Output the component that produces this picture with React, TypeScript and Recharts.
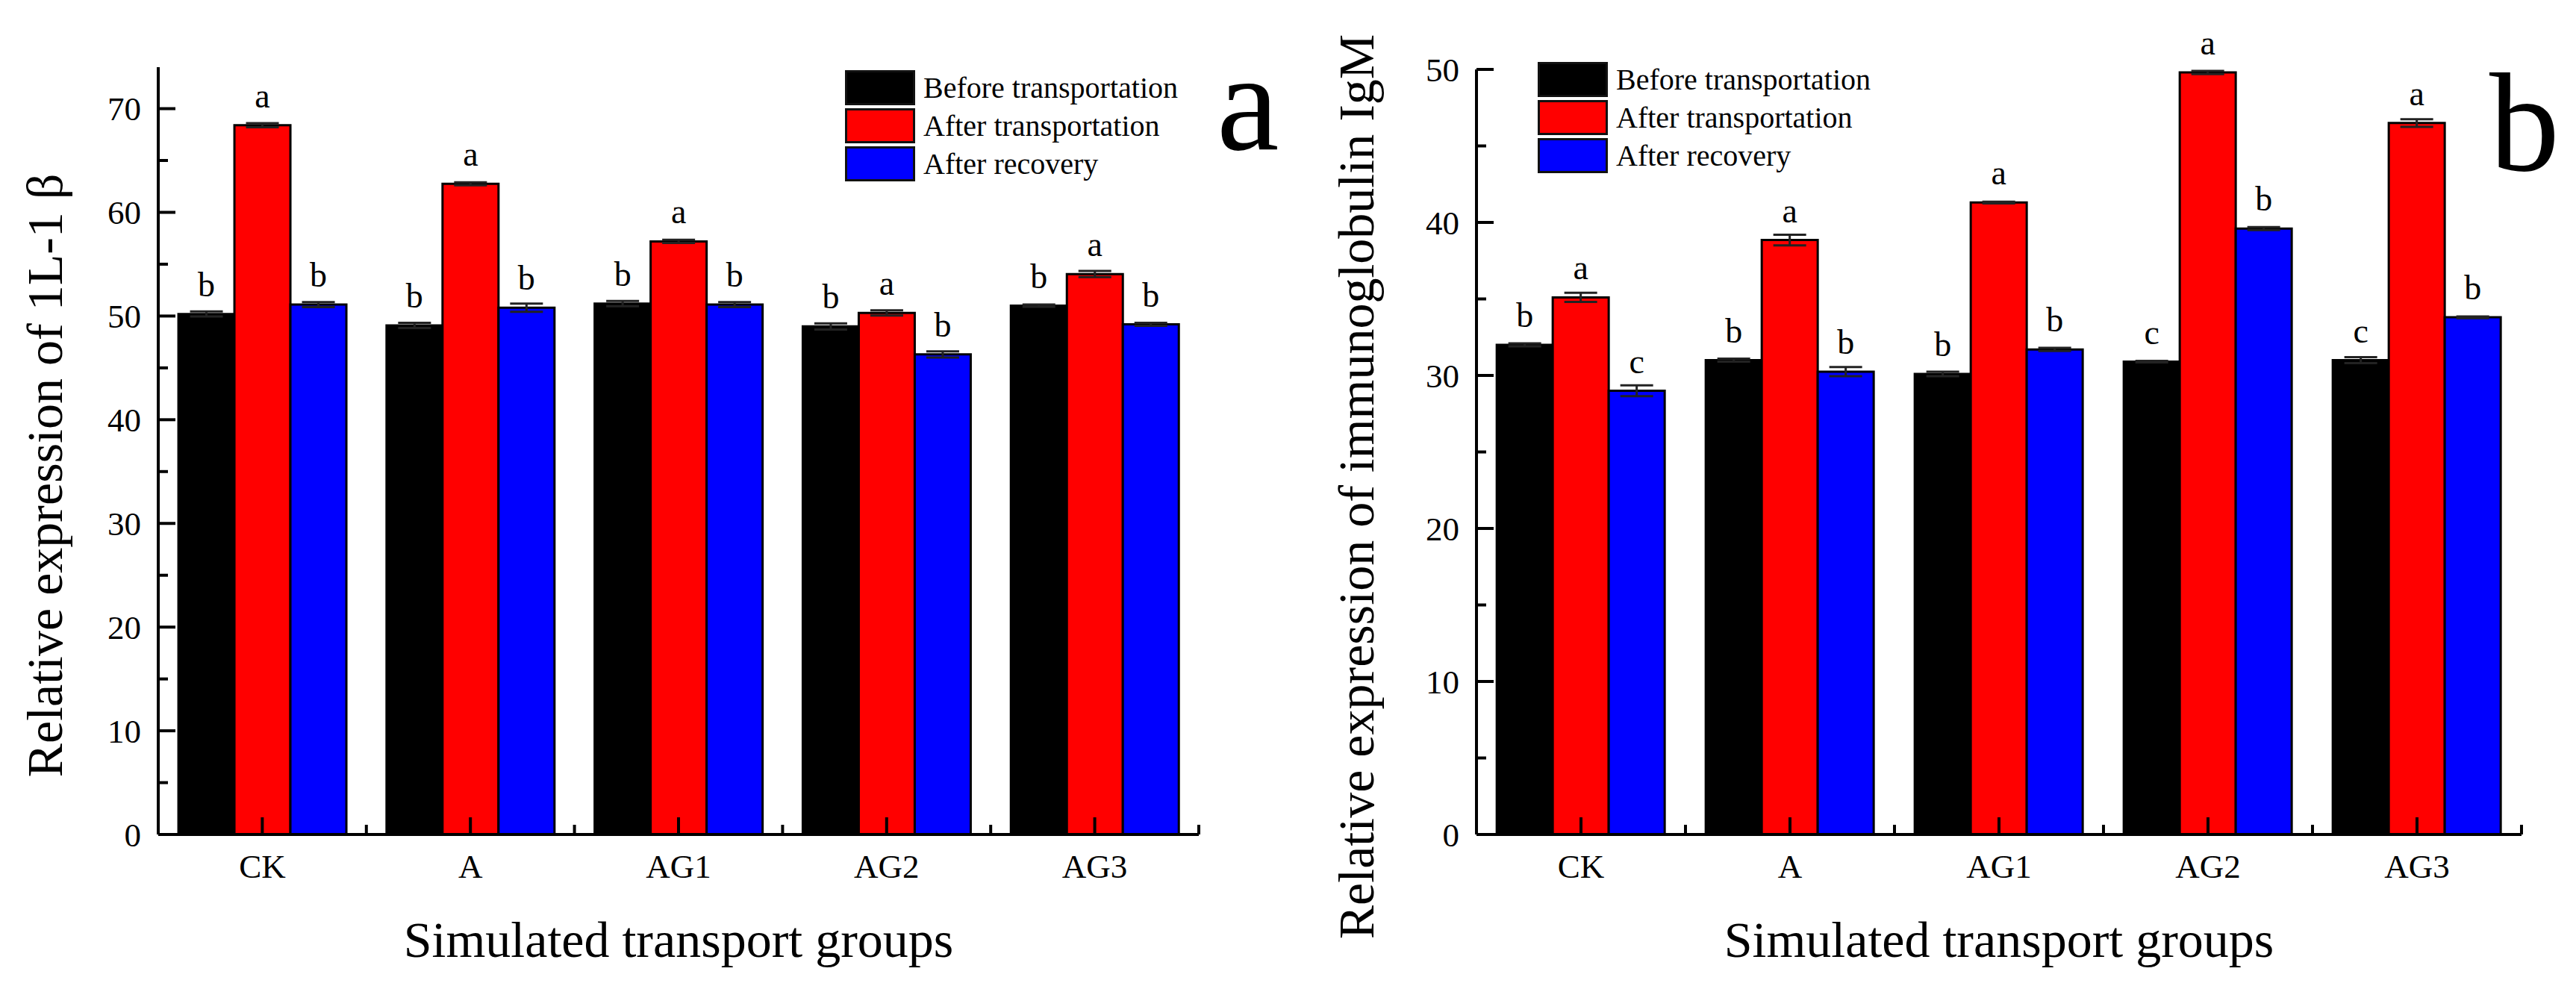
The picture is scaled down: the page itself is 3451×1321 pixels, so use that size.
import React from 'react'
import { BarChart, Bar, XAxis, YAxis, ErrorBar, LabelList, Legend } from 'recharts'

const groups = ['CK', 'A', 'AG1', 'AG2', 'AG3']

// panel a: IL-1 beta
const ilBefore = [50.2, 49.1, 51.2, 49.0, 51.0]
const ilAfter = [68.4, 62.75, 57.2, 50.3, 54.05]
const ilRecovery = [51.1, 50.8, 51.1, 46.3, 49.2]
const ilBeforeErr = [0.25, 0.25, 0.25, 0.3, 0.1]
const ilAfterErr = [0.2, 0.15, 0.15, 0.25, 0.3]
const ilRecoveryErr = [0.25, 0.4, 0.25, 0.3, 0.15]
const ilBeforeSig = ['b', 'b', 'b', 'b', 'b']
const ilAfterSig = ['a', 'a', 'a', 'a', 'a']
const ilRecoverySig = ['b', 'b', 'b', 'b', 'b']
const ilTicks = [0, 5, 10, 15, 20, 25, 30, 35, 40, 45, 50, 55, 60, 65, 70]

// panel b: immunoglobulin IgM
const igmBefore = [32.0, 31.0, 30.1, 30.9, 31.0]
const igmAfter = [35.1, 38.85, 41.3, 49.8, 46.5]
const igmRecovery = [29.0, 30.25, 31.7, 39.6, 33.8]
const igmBeforeErr = [0.1, 0.1, 0.15, 0.05, 0.2]
const igmAfterErr = [0.3, 0.35, 0.05, 0.1, 0.25]
const igmRecoveryErr = [0.35, 0.3, 0.1, 0.1, 0.05]
const igmBeforeSig = ['b', 'b', 'b', 'c', 'c']
const igmAfterSig = ['a', 'a', 'a', 'a', 'a']
const igmRecoverySig = ['c', 'b', 'b', 'b', 'b']
const igmTicks = [0, 5, 10, 15, 20, 25, 30, 35, 40, 45, 50]

const SERIES = [
  { key: 'before', name: 'Before transportation', color: '#000000' },
  { key: 'after', name: 'After transportation', color: '#ff0000' },
  { key: 'recovery', name: 'After recovery', color: '#0000ff' },
]

const FONT = '"Liberation Serif", "Times New Roman", serif'

function rows(before, after, recovery, bErr, aErr, rErr, bSig, aSig, rSig) {
  return groups.map((g, i) => ({
    group: g,
    before: before[i], after: after[i], recovery: recovery[i],
    beforeErr: bErr[i], afterErr: aErr[i], recoveryErr: rErr[i],
    beforeSig: bSig[i], afterSig: aSig[i], recoverySig: rSig[i],
  }))
}

const ilRows = rows(ilBefore, ilAfter, ilRecovery, ilBeforeErr, ilAfterErr, ilRecoveryErr,
  ilBeforeSig, ilAfterSig, ilRecoverySig)
const igmRows = rows(igmBefore, igmAfter, igmRecovery, igmBeforeErr, igmAfterErr, igmRecoveryErr,
  igmBeforeSig, igmAfterSig, igmRecoverySig)

const YTick = (props: any) => {
  const { x, y, payload } = props
  const major = payload.value % 10 === 0
  return (
    <g>
      <line x1={x} x2={x + (major ? 23 : 13)} y1={y} y2={y} stroke="#000" strokeWidth={4} />
      {major && (
        <text x={x - 23} y={y} dy="0.35em" textAnchor="end" fontSize={45} fill="#000">
          {payload.value}
        </text>
      )}
    </g>
  )
}

const makeXTick = (band: number) => (props: any) => {
  const { x, y, payload } = props
  return (
    <g>
      <line x1={x} x2={x} y1={y} y2={y - 23} stroke="#000" strokeWidth={4} />
      <line x1={x + band / 2} x2={x + band / 2} y1={y} y2={y - 13} stroke="#000" strokeWidth={4} />
      <text x={x} y={y + 58} textAnchor="middle" fontSize={45} fill="#000">{payload.value}</text>
    </g>
  )
}

const AxisTitle = ({ labelText, lx, ly, rotate }: any) => (
  <text
    x={lx}
    y={ly}
    transform={rotate ? `rotate(-90 ${lx} ${ly})` : undefined}
    textAnchor="middle"
    fontSize={68}
    fill="#000"
  >
    {labelText}
  </text>
)

const LegendBox = () => (
  <div style={{ fontFamily: FONT }}>
    {SERIES.map((s) => (
      <div key={s.key} style={{ display: 'flex', alignItems: 'center', height: 51 }}>
        <span
          style={{
            width: 94, height: 47, background: s.color, border: '3px solid #111',
            boxSizing: 'border-box', display: 'inline-block',
          }}
        />
        <span style={{ marginLeft: 11, fontSize: 40, lineHeight: '47px', color: '#000', whiteSpace: 'nowrap' }}>
          {s.name}
        </span>
      </div>
    ))}
  </div>
)

interface PanelProps {
  data: any[]
  width: number
  margin: { top: number; right: number; bottom: number; left: number }
  domainMax: number
  ticks: number[]
  yTitle: string
  yTitleX: number
  yTitleY: number
  xTitleX: number
  legendLeft: number
  legendTop: number
  letter: string
  letterX: number
  letterY: number
}

function Panel(p: PanelProps) {
  const band = (p.width - p.margin.left - 60 - p.margin.right) / groups.length
  return (
    <BarChart
      width={p.width}
      height={1321}
      data={p.data}
      margin={p.margin}
      barGap={0}
      barCategoryGap="9.7%"
    >
      <XAxis
        dataKey="group"
        height={60}
        interval={0}
        tickSize={0}
        tickMargin={0}
        tickLine={false}
        axisLine={{ stroke: '#000', strokeWidth: 4 }}
        tick={makeXTick(band)}
        label={<AxisTitle labelText="Simulated transport groups" lx={p.xTitleX} ly={1282} />}
      />
      <YAxis
        width={60}
        domain={[0, p.domainMax]}
        ticks={p.ticks}
        interval={0}
        allowDataOverflow
        tickSize={0}
        tickMargin={0}
        tickLine={false}
        axisLine={{ stroke: '#000', strokeWidth: 4 }}
        tick={YTick}
        label={<AxisTitle labelText={p.yTitle} lx={p.yTitleX} ly={p.yTitleY} rotate />}
      />
      <Legend
        layout="vertical"
        align="center"
        verticalAlign="middle"
        content={LegendBox}
        wrapperStyle={{ left: p.legendLeft, top: p.legendTop, width: 'auto', height: 'auto' }}
      />
      {SERIES.map((s) => (
        <Bar
          key={s.key}
          dataKey={s.key}
          name={s.name}
          fill={s.color}
          stroke="#000"
          strokeWidth={3}
          isAnimationActive={false}
        >
          <ErrorBar dataKey={s.key + 'Err'} width={22} strokeWidth={3} stroke="#222" />
          <LabelList dataKey={s.key + 'Sig'} position="top" offset={24} fontSize={46} fill="#000" />
        </Bar>
      ))}
      <text x={p.letterX} y={p.letterY} fontSize={188} fill="#000">{p.letter}</text>
    </BarChart>
  )
}

export default function App() {
  return (
    <div
      style={{
        position: 'absolute', left: 0, top: 0, width: 3451, height: 1321,
        background: '#fff', fontFamily: FONT,
      }}
    >
      <div style={{ position: 'absolute', left: 0, top: 0 }}>
        <Panel
          data={ilRows}
          width={1725}
          margin={{ top: 90, right: 119, bottom: 143, left: 152 }}
          domainMax={74}
          ticks={ilTicks}
          yTitle="Relative expression of 1L-1 β"
          yTitleX={83}
          yTitleY={637}
          xTitleX={909}
          legendLeft={1132}
          legendTop={92}
          letter="a"
          letterX={1630}
          letterY={200}
        />
      </div>
      <div style={{ position: 'absolute', left: 1725, top: 0 }}>
        <Panel
          data={igmRows}
          width={1726}
          margin={{ top: 93, right: 73, bottom: 143, left: 193 }}
          domainMax={50}
          ticks={igmTicks}
          yTitle="Relative expression of immunoglobulin IgM"
          yTitleX={115}
          yTitleY={652}
          xTitleX={953}
          legendLeft={335}
          legendTop={81}
          letter="b"
          letterX={1610}
          letterY={228}
        />
      </div>
    </div>
  )
}
